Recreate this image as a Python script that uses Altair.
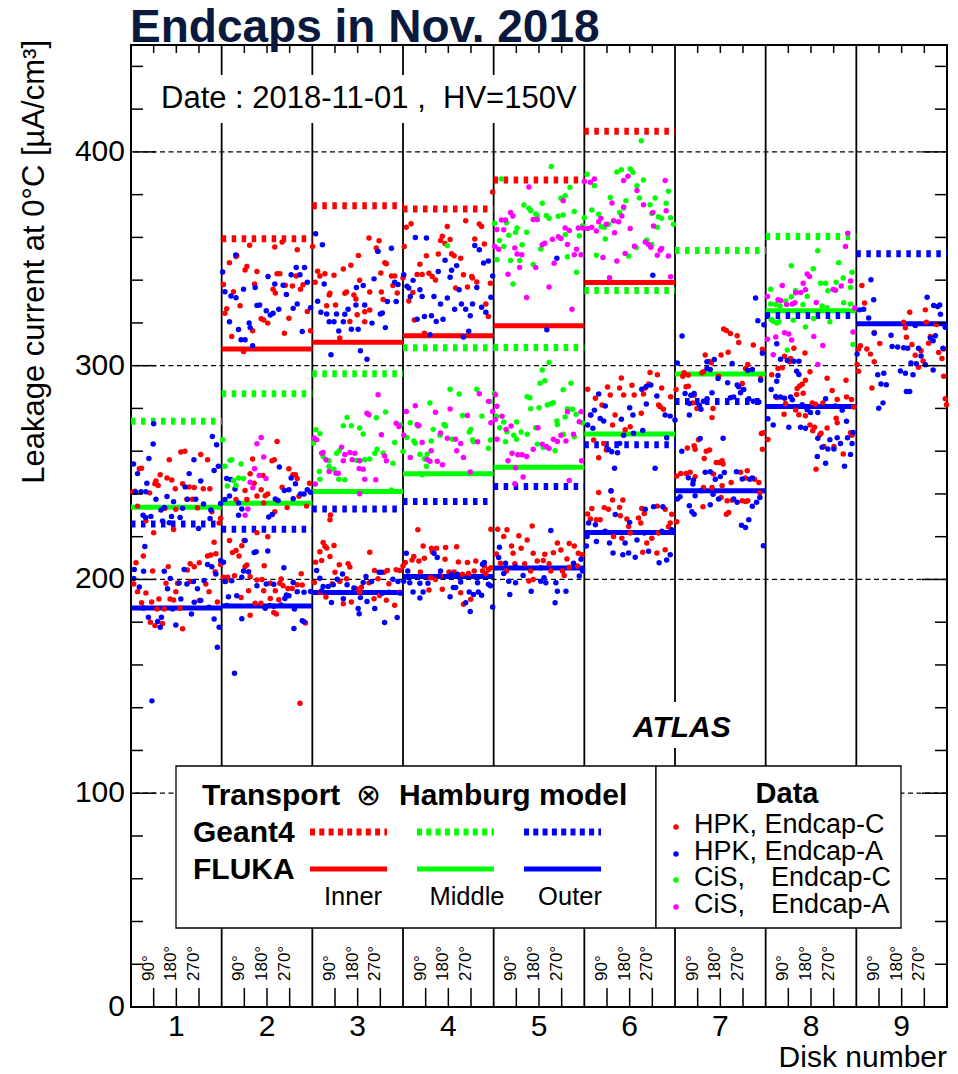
import altair as alt
import pandas as pd

FONT = "Liberation Sans"
W, H = 816, 962  # plot area in pixels

# ---------------- axes / layout values ----------------
disks = [1, 2, 3, 4, 5, 6, 7, 8, 9]
dividers = [1.5, 2.5, 3.5, 4.5, 5.5, 6.5, 7.5, 8.5]
phi_ticks = [90, 180, 270]
phi_labels = ["90°", "180°", "270°"]
y_major = [0, 100, 200, 300, 400]
y_minor = [20, 40, 60, 80, 120, 140, 160, 180, 220, 240, 260, 280,
           320, 340, 360, 380, 420, 440]
grid_levels = [100, 200, 300, 400]

# ---------------- model predictions (per disk 1..9) ----------------
g4_inner = [None, 359.4, 374.8, 373.3, 386.9, 409.6, None, None, None]
fl_inner = [None, 307.8, 310.9, 314.0, 318.7, 338.9, None, None, None]
g4_middle = [274.0, 286.9, 296.2, 308.4, 308.5, 335.2, 353.9, 360.4, None]
fl_middle = [233.8, 235.7, 241.1, 249.4, 252.5, 268.0, 296.1, 325.7, None]
g4_outer = [225.9, 223.5, 233.0, 236.5, 243.5, 263.0, 283.2, 323.5, 352.4]
fl_outer = [186.6, 187.6, 193.9, 201.4, 205.3, 222.0, 241.5, 280.9, 319.6]

# ---------------- measured modules: (phi [deg], current) ----------------
hpk_c_d1 = [(198, 259.6), (214, 260.0), (152, 256.0), (277, 258.4), (304, 256.0), (33, 251.8), (42, 252.0),
            (116, 249.0), (143, 247.5), (162, 246.5), (99, 246.0), (95, 244.8), (108, 244.0), (176, 242.4),
            (205, 244.8), (231, 243.3), (251, 243.0), (287, 242.4), (313, 242.4), (16, 241.3), (7, 240.8),
            (74, 240.5), (222, 237.5), (244, 237.5), (264, 233.5), (26, 234.3), (135, 233.3), (178, 232.8),
            (321, 231.7), (356, 228.6), (59, 227.4), (169, 223.4), (90, 221.9), (350, 226.4),
            (330, 217.4), (49, 211.0), (337, 212.0), (317, 211.4), (304, 211.0), (20, 207.8), (235, 207.3),
            (271, 207.8), (251, 205.9), (356, 207.0), (86, 204.0), (139, 198.2), (185, 198.2), (11, 197.9),
            (26, 194.3), (178, 194.3), (235, 199.0), (310, 194.3), (59, 193.7), (111, 190.9), (155, 190.9),
            (169, 190.4), (271, 190.1), (343, 189.4), (42, 189.1), (82, 189.4), (103, 186.2), (132, 186.2),
            (195, 186.5), (77, 180.0), (95, 178.4), (125, 179.4), (205, 176.9), (297, 197.9), (224, 204.4),
            (148, 206.0), (334, 203.6)]
hpk_a_d1 = [(90, 272.8), (323, 266.9), (88, 263.4), (340, 263.0), (71, 256.6), (10, 254.0), (250, 256.0),
            (26, 249.5), (330, 251.0), (347, 253.0), (215, 243.3), (63, 245.0), (231, 249.5), (277, 246.0),
            (18, 240.8), (40, 241.0), (59, 241.0), (143, 238.8), (169, 236.4), (205, 233.3), (224, 237.5),
            (257, 237.5), (288, 235.3), (317, 232.5), (99, 237.5), (119, 232.5), (132, 233.7), (48, 230.0),
            (58, 229.0), (79, 229.5), (161, 229.5), (195, 229.0), (314, 228.5), (125, 227.4), (152, 226.5),
            (268, 223.8), (356, 235.5),
            (55, 215.4), (13, 204.6), (50, 203.8), (132, 203.8), (211, 204.7), (304, 207.0), (321, 205.9),
            (356, 208.9), (33, 196.5), (145, 195.7), (191, 198.3), (222, 197.9), (248, 199.0), (290, 199.5),
            (337, 202.5), (198, 190.9), (251, 189.3), (277, 190.1), (50, 186.6), (310, 187.0), (165, 186.2),
            (69, 182.3), (121, 182.3), (106, 180.3), (116, 177.6), (178, 178.7), (240, 183.8), (330, 181.5),
            (350, 177.6), (343, 168.3), (83, 143.2), (11, 200.5), (156, 200.5), (264, 195.7)]

hpk_c_d2 = [(111, 356.3), (57, 351.1), (211, 355.5), (240, 357.8), (300, 354.2), (140, 344.1), (93, 344.8),
            (100, 346.4), (31, 348.2), (131, 338.2), (7, 338.0), (220, 343.0), (231, 343.0), (204, 335.8),
            (213, 334.0), (253, 337.6), (281, 337.3), (296, 341.9), (313, 335.8), (323, 337.8), (47, 334.6),
            (73, 328.0), (13, 324.5), (20, 326.6), (157, 321.9), (167, 321.4), (183, 319.9), (123, 316.3),
            (249, 315.2), (267, 322.2), (340, 325.3), (353, 316.3), (40, 313.7), (87, 306.6), (60, 351.5),
            (220, 264.5), (123, 256.3), (209, 256.0), (200, 255.5), (113, 249.4), (164, 248.6), (267, 251.8),
            (283, 249.0), (293, 249.0), (300, 247.2), (349, 245.0), (129, 245.0), (157, 242.0), (93, 241.6),
            (183, 240.0), (173, 239.2), (140, 239.0), (57, 237.4), (240, 243.1), (307, 238.9), (167, 235.8),
            (337, 234.3), (260, 233.6), (211, 231.7), (100, 237.4),
            (140, 221.9), (183, 220.0), (31, 218.2), (89, 218.2), (80, 215.8), (57, 213.5), (43, 212.6),
            (69, 211.0), (100, 206.8), (93, 206.0), (169, 206.4), (24, 201.0), (51, 201.7), (113, 201.3),
            (7, 201.0), (236, 200.2), (316, 202.7), (17, 199.2), (140, 199.7), (160, 200.0), (193, 198.2),
            (231, 198.2), (244, 197.0), (263, 195.8), (280, 195.8), (300, 197.5), (320, 197.4), (107, 194.7),
            (167, 194.7), (213, 194.7), (77, 191.6), (193, 191.1), (227, 190.5), (133, 188.9), (156, 188.9),
            (207, 184.5), (217, 183.8), (113, 183.3), (333, 179.6), (311, 142.1)]
hpk_a_d2 = [(56, 351.8), (4, 343.8), (13, 334.6), (37, 332.6), (57, 331.8), (87, 335.8), (133, 336.6),
            (184, 341.7), (211, 338.2), (244, 337.6), (257, 333.3), (276, 342.5), (296, 345.9), (311, 342.5),
            (329, 345.9), (340, 339.0), (140, 328.2), (151, 328.4), (177, 325.7), (193, 323.7), (204, 324.5),
            (227, 326.4), (284, 326.8), (300, 328.9), (31, 320.5), (67, 316.9), (109, 320.0), (113, 317.8),
            (77, 312.1), (93, 312.1), (123, 309.3), (320, 316.0), (353, 327.1),
            (229, 252.6), (20, 247.2), (36, 246.7), (53, 242.3), (276, 247.5), (293, 244.8), (249, 241.6),
            (267, 242.0), (313, 240.0), (327, 240.0), (13, 237.4), (31, 239.0), (67, 235.8), (80, 233.0),
            (213, 237.6), (224, 236.9), (284, 237.7), (340, 242.0), (201, 230.4), (187, 229.2), (67, 230.0),
            (353, 240.8),
            (93, 218.2), (129, 212.6), (137, 213.0), (183, 213.3), (7, 208.0), (87, 204.0), (107, 203.6),
            (247, 205.5), (13, 199.0), (40, 199.4), (80, 201.0), (140, 197.0), (177, 197.9), (207, 197.7),
            (257, 192.7), (284, 198.6), (300, 194.3), (327, 194.0), (353, 194.4), (60, 192.4), (27, 191.9),
            (173, 186.5), (191, 187.8), (251, 191.1), (267, 192.4), (236, 188.1), (289, 186.2), (80, 181.6),
            (287, 177.1), (320, 180.7), (327, 180.2), (51, 156.1), (207, 187.5), (20, 187.8)]
cis_c_d2 = [(4, 265.3), (33, 255.7), (40, 256.0), (77, 254.0), (13, 253.0), (47, 246.3), (67, 247.5),
            (87, 247.2), (23, 243.7), (57, 244.0)]
cis_a_d2 = [(157, 266.4), (140, 263.5), (167, 257.3), (131, 251.8), (149, 248.6), (176, 247.2), (113, 245.5),
            (124, 242.9), (104, 233.0), (93, 230.0)]

hpk_c_d3 = [(225, 359.7), (254, 355.0), (265, 358.4), (294, 347.7), (272, 343.4), (288, 348.2), (259, 353.5),
            (188, 340.0), (153, 347.0), (123, 345.2), (86, 342.3), (50, 343.0), (30, 341.9), (11, 339.0),
            (21, 344.2), (70, 333.9), (67, 333.1), (57, 328.0), (92, 328.4), (129, 333.9), (136, 334.5),
            (165, 333.1), (173, 331.2), (208, 320.5), (228, 334.5), (274, 334.5), (281, 331.0), (314, 341.9),
            (320, 337.5), (327, 342.0), (337, 334.0), (109, 312.9), (149, 320.7), (183, 351.5), (208, 325.2),
            (178, 323.8), (228, 326.0), (1, 355.8),
            (72, 230.2), (70, 227.9), (43, 217.3), (57, 214.7), (50, 215.5), (86, 215.9), (30, 213.0),
            (70, 210.7), (13, 208.1), (37, 208.9), (107, 206.9), (142, 207.4), (149, 205.8), (228, 212.7),
            (247, 204.2), (298, 204.2), (333, 204.5), (347, 204.2), (285, 203.4), (304, 198.0), (261, 200.3),
            (8, 198.6), (79, 198.0), (109, 199.0), (136, 200.3), (175, 195.6), (188, 194.0), (195, 196.4),
            (225, 198.4), (267, 192.5), (245, 191.0), (123, 188.6), (155, 189.4), (34, 194.0), (54, 191.8),
            (294, 190.3), (327, 187.9), (347, 194.0), (90, 203.4)]
hpk_a_d3 = [(13, 361.7), (40, 356.6), (47, 338.2), (21, 330.1), (34, 325.0), (57, 324.2), (67, 320.5),
            (86, 320.5), (105, 316.2), (123, 320.5), (129, 324.0), (155, 317.0), (182, 317.0), (175, 336.6),
            (173, 328.4), (202, 337.5), (208, 328.4), (237, 319.9), (245, 340.6), (261, 353.5), (270, 324.2),
            (278, 324.6), (290, 317.8), (298, 330.0), (314, 354.9), (327, 339.0), (333, 330.0), (340, 338.0),
            (142, 326.4), (74, 305.1), (191, 307.0), (217, 303.0), (96, 324.2),
            (17, 204.2), (30, 200.6), (43, 196.7), (63, 196.7), (83, 197.5), (99, 200.1), (120, 202.6),
            (138, 197.5), (165, 196.0), (202, 198.6), (213, 201.4), (235, 199.0), (265, 203.4), (274, 203.4),
            (278, 193.6), (304, 194.0), (320, 200.1), (340, 199.0), (349, 193.6), (76, 189.2), (123, 191.0),
            (182, 186.4), (186, 184.0), (217, 189.7), (248, 186.4), (287, 179.9), (337, 182.2), (191, 191.5),
            (37, 194.7), (107, 193.9)]
cis_c_d3 = [(14, 270.0), (30, 268.1), (4, 263.8), (43, 257.5), (66, 255.5), (86, 251.6), (105, 246.9),
            (30, 246.9), (129, 246.6), (138, 275.8), (123, 271.9), (155, 271.9), (188, 270.8), (202, 268.0),
            (254, 275.6), (291, 278.3), (248, 259.0), (257, 260.9), (228, 256.3), (208, 256.0), (175, 255.7),
            (107, 260.2), (96, 259.0), (66, 252.8), (327, 264.1), (349, 272.4), (320, 254.4), (281, 259.1),
            (314, 241.9), (28, 250.5)]
cis_a_d3 = [(261, 286.4), (217, 277.8), (225, 277.0), (333, 273.1), (344, 271.5), (43, 259.4), (37, 259.0),
            (54, 256.0), (17, 265.4), (8, 266.2), (116, 261.9), (129, 258.4), (149, 259.4), (158, 256.0),
            (169, 259.0), (123, 255.5), (188, 255.5), (202, 251.6), (186, 251.9), (67, 250.5), (94, 249.7),
            (274, 267.7), (294, 255.5), (287, 257.8), (252, 246.6), (208, 246.9), (188, 240.1), (12, 244.6),
            (103, 249.7)]

hpk_c_d4 = [(13, 364.8), (32, 366.4), (5, 355.7), (176, 365.1), (249, 367.8), (303, 366.3), (312, 365.1),
            (156, 360.5), (149, 358.5), (167, 357.1), (187, 359.0), (285, 359.3), (323, 356.9), (93, 351.4),
            (140, 352.2), (193, 352.3), (203, 351.4), (229, 350.3), (67, 347.4), (56, 342.7), (76, 342.7),
            (103, 343.2), (116, 341.7), (129, 340.1), (240, 342.5), (273, 341.7), (276, 341.0), (293, 339.1),
            (347, 338.6), (209, 336.3), (256, 336.8), (39, 334.2), (23, 330.3), (45, 321.4), (329, 328.8),
            (339, 323.0), (85, 315.2), (356, 381.2), (0, 341.0),
            (59, 223.2), (349, 223.5), (80, 215.6), (113, 214.6), (133, 214.6), (169, 214.9), (213, 215.3),
            (116, 213.0), (43, 210.7), (36, 209.1), (85, 209.9), (167, 209.4), (9, 207.9), (63, 208.6),
            (183, 203.5), (220, 208.2), (256, 207.9), (289, 208.6), (323, 206.3), (340, 204.7), (349, 205.5),
            (109, 200.8), (129, 200.0), (149, 201.6), (203, 203.5), (236, 202.4), (260, 202.8), (316, 203.9),
            (329, 202.8), (103, 195.1), (156, 195.4), (229, 193.8), (240, 188.4), (269, 190.7), (69, 203.5),
            (283, 203.9), (0, 206.3)]
hpk_a_d4 = [(49, 360.0), (93, 359.7), (285, 356.2), (303, 354.2), (320, 348.0), (339, 349.0), (167, 349.3),
            (193, 344.6), (213, 346.8), (187, 341.4), (140, 344.1), (3, 342.5), (16, 337.1), (23, 336.3),
            (40, 339.9), (67, 335.5), (76, 332.4), (123, 332.4), (149, 328.8), (176, 331.6), (223, 335.5),
            (276, 328.8), (293, 336.6), (312, 327.3), (329, 325.0), (349, 332.0), (356, 342.0), (29, 332.4),
            (56, 321.7), (85, 323.0), (113, 323.3), (132, 320.7), (159, 321.7), (205, 326.4), (232, 328.8),
            (249, 326.4), (267, 323.3), (107, 314.5), (240, 313.4), (261, 316.1),
            (13, 212.2), (123, 212.2), (136, 210.3), (149, 203.9), (192, 202.4), (216, 202.4), (316, 207.1),
            (323, 207.9), (3, 199.2), (27, 198.5), (67, 198.2), (99, 198.2), (200, 196.2), (209, 196.2),
            (296, 198.5), (339, 197.7), (347, 197.0), (40, 194.1), (80, 194.1), (187, 191.9), (263, 194.1),
            (280, 193.0), (299, 194.1), (312, 192.6), (67, 191.3), (249, 189.1), (267, 185.0), (356, 187.1),
            (143, 201.6), (229, 198.8), (19, 203.9)]
cis_c_d4 = [(176, 356.2),
            (187, 289.0), (223, 286.7), (293, 289.0), (107, 282.5), (347, 283.3), (236, 276.7), (313, 276.4),
            (163, 272.5), (169, 271.8), (29, 273.3), (59, 271.8), (120, 270.2), (269, 270.2), (263, 269.0),
            (196, 265.6), (16, 266.4), (43, 264.8), (49, 263.7), (112, 264.8), (147, 267.5), (276, 265.2),
            (280, 264.4), (347, 265.2), (67, 258.6), (96, 258.6), (85, 256.5), (93, 252.9), (339, 261.4),
            (76, 249.0), (0, 259.9)]
cis_a_d4 = [(303, 286.9), (339, 283.3), (13, 278.6), (49, 281.3), (129, 278.2), (187, 279.7), (256, 276.7),
            (356, 278.6), (56, 272.5), (63, 272.0), (149, 268.5), (176, 266.0), (209, 265.6), (229, 263.6),
            (349, 273.3), (296, 264.4), (76, 264.1), (29, 257.1), (112, 260.2), (213, 260.2), (96, 256.1),
            (107, 255.3), (136, 255.3), (157, 253.7), (240, 257.1), (267, 250.3), (3, 267.5)]

cis_c_d5 = [(229, 393.2), (31, 387.3), (284, 379.5), (303, 383.4), (267, 378.3), (120, 375.2), (140, 373.6),
            (147, 372.5), (193, 376.0), (173, 370.2), (209, 370.2), (220, 369.0), (256, 369.9), (276, 370.5),
            (320, 372.1), (167, 371.0), (4, 366.6), (51, 366.8), (93, 364.4), (87, 362.4), (23, 358.6),
            (60, 361.0), (131, 362.4), (40, 355.8), (113, 356.6), (187, 354.6), (284, 361.3), (340, 360.8),
            (353, 365.5), (13, 349.6), (67, 349.2), (103, 349.2), (157, 347.3), (293, 350.9), (329, 343.7),
            (77, 338.2),
            (220, 301.5), (193, 298.0), (203, 293.0), (184, 291.8), (276, 288.7), (307, 291.8), (133, 285.5),
            (213, 281.6), (227, 282.2), (237, 282.7), (251, 274.1), (284, 276.0), (293, 279.9), (313, 279.6),
            (327, 277.3), (353, 273.3), (253, 272.5), (180, 280.3), (167, 271.0), (11, 276.3), (40, 273.7),
            (91, 273.7), (147, 279.9), (109, 269.0), (80, 267.5), (91, 265.6), (24, 271.0), (53, 269.1),
            (133, 267.9), (47, 264.4), (173, 263.3), (197, 261.7), (244, 260.2), (277, 267.9), (320, 266.8),
            (3, 287.0), (144, 285.0)]
cis_a_d5 = [(140, 383.6), (67, 371.6), (76, 370.0), (31, 368.1), (47, 368.1), (157, 368.4), (173, 368.4),
            (276, 377.2), (284, 364.4), (300, 363.2), (336, 364.4), (353, 364.4), (13, 363.7), (40, 363.6),
            (4, 355.8), (20, 354.5), (84, 355.1), (93, 352.2), (111, 351.9), (193, 356.6), (203, 357.3),
            (233, 359.1), (257, 360.3), (267, 359.5), (293, 356.7), (329, 354.5), (320, 351.9), (347, 351.9),
            (57, 342.8), (103, 345.9), (167, 345.9), (240, 347.9), (220, 336.8), (131, 331.9), (311, 326.4),
            (7, 286.4), (13, 281.0), (33, 276.3), (49, 270.2), (7, 274.8), (13, 265.6), (69, 271.8),
            (73, 259.0), (96, 258.3), (113, 258.3), (131, 257.5), (57, 255.5), (87, 252.2), (157, 260.9),
            (176, 271.0), (193, 263.3), (209, 262.2), (237, 265.6), (253, 264.5), (267, 267.5), (287, 264.8),
            (293, 278.5), (340, 273.8), (347, 278.5), (317, 267.9), (349, 255.5), (220, 261.2), (117, 247.9),
            (300, 246.3), (84, 244.8)]
hpk_c_d5 = [(16, 223.5), (53, 223.2), (153, 225.0), (40, 220.1), (100, 220.4), (133, 218.5), (320, 215.6),
            (71, 215.6), (109, 214.6), (253, 217.1), (300, 216.8), (77, 212.2), (11, 211.9), (157, 212.2),
            (203, 211.8), (237, 212.5), (267, 213.8), (336, 212.2), (351, 211.5), (27, 207.6), (84, 207.3),
            (123, 207.3), (173, 208.6), (197, 208.9), (220, 207.3), (291, 209.6), (300, 205.7), (51, 203.9),
            (147, 203.9), (227, 203.9), (273, 203.9), (157, 200.0), (140, 199.3), (280, 201.9), (333, 206.3)]
hpk_a_d5 = [(211, 316.8), (251, 350.3),
            (23, 215.1), (227, 222.9), (20, 210.3), (47, 207.6), (87, 206.0), (187, 205.5), (317, 207.6),
            (347, 209.4), (40, 202.8), (60, 199.2), (87, 198.5), (117, 201.9), (149, 194.5), (187, 199.2),
            (200, 200.8), (207, 198.5), (247, 198.5), (253, 194.5), (287, 194.5), (340, 201.6), (353, 203.9),
            (64, 193.0), (244, 189.1)]

cis_c_d6 = [(226, 405.2), (129, 390.6), (147, 391.7), (182, 392.0), (193, 390.5), (11, 389.5), (40, 384.2),
            (235, 386.8), (209, 384.2), (334, 381.6), (281, 378.4), (165, 377.2), (219, 378.4), (261, 375.3),
            (325, 376.0), (103, 378.7), (156, 373.7), (140, 371.6), (30, 372.8), (57, 370.8), (268, 371.2),
            (294, 369.7), (307, 368.9), (343, 369.2), (0, 369.2), (354, 366.1), (67, 365.0), (79, 364.7),
            (96, 366.1), (290, 364.7), (83, 359.2), (248, 358.8), (206, 355.3), (48, 351.7), (176, 351.3),
            (268, 356.7)]
cis_a_d6 = [(0, 386.2), (24, 385.8), (40, 387.3), (156, 386.6), (173, 388.6), (321, 386.6), (209, 381.9),
            (110, 376.1), (156, 374.2), (235, 375.3), (272, 371.6), (325, 372.5), (66, 368.9), (57, 367.3),
            (116, 367.8), (136, 367.3), (149, 370.0), (87, 366.2), (13, 364.2), (30, 364.7), (48, 363.0),
            (120, 362.2), (182, 364.2), (275, 365.3), (242, 357.8), (255, 356.7), (264, 355.4), (199, 355.9),
            (162, 352.5), (74, 350.6), (129, 349.0), (290, 351.7), (301, 354.0), (307, 354.8), (334, 351.3),
            (100, 341.1), (343, 341.6)]
hpk_c_d6 = [(261, 296.8), (290, 295.7), (147, 294.2), (92, 290.0), (189, 290.8), (140, 289.5), (242, 289.5),
            (255, 291.4), (307, 289.5), (13, 289.0), (44, 284.8), (103, 286.3), (156, 286.3), (198, 286.3),
            (235, 286.7), (343, 285.5), (295, 281.6), (70, 281.6), (122, 276.9), (226, 277.7), (301, 280.8),
            (314, 279.6), (24, 276.9), (112, 272.2), (182, 271.4), (37, 265.2), (77, 263.6), (57, 256.9),
            (87, 260.5), (162, 270.0),
            (57, 240.7), (106, 241.4), (112, 237.2), (153, 237.2), (79, 233.6), (96, 232.8), (140, 233.7),
            (30, 233.2), (228, 233.2), (238, 230.9), (290, 234.3), (321, 232.8), (13, 230.6), (347, 230.5),
            (48, 227.9), (63, 227.9), (143, 229.8), (215, 228.7), (224, 226.4), (341, 226.4), (169, 228.3),
            (24, 228.3), (176, 224.8), (334, 224.6), (182, 221.7), (116, 220.1), (149, 219.3), (268, 219.3),
            (294, 221.7), (248, 217.0), (321, 213.9), (232, 212.7), (288, 212.4)]
hpk_a_d6 = [(272, 342.3),
            (228, 289.0), (246, 290.3), (264, 291.0), (57, 286.8), (288, 285.8), (180, 280.3), (83, 281.1),
            (246, 282.1), (40, 279.2), (321, 276.9), (341, 276.4), (26, 276.9), (63, 275.3), (77, 274.1),
            (147, 274.9), (193, 276.9), (13, 272.2), (34, 270.7), (156, 267.5), (195, 268.4), (232, 269.7),
            (327, 266.3), (96, 260.8), (109, 259.7), (132, 259.3), (120, 252.0), (281, 252.0), (140, 263.6),
            (106, 241.5), (17, 226.4), (44, 225.6), (180, 226.7), (242, 232.8), (275, 234.0), (312, 234.0),
            (123, 230.4), (11, 220.1), (48, 217.8), (100, 217.0), (162, 217.0), (209, 218.5), (238, 221.7),
            (308, 222.5), (347, 223.2), (114, 212.4), (153, 211.6), (176, 212.4), (202, 210.4), (255, 213.2),
            (297, 207.8), (327, 209.1), (341, 211.6), (8, 215.6), (83, 222.5)]

hpk_c_d7 = [(193, 317.1), (204, 316.5), (220, 315.0), (247, 314.0), (253, 310.8), (211, 306.3), (183, 305.0),
            (120, 305.0), (137, 301.9), (144, 301.4), (107, 296.7), (113, 297.2), (311, 309.7), (289, 300.6),
            (347, 307.7), (36, 296.7), (31, 295.1), (44, 290.1), (53, 290.4), (71, 282.6), (76, 286.2),
            (87, 280.0), (53, 295.6), (151, 280.0), (147, 275.7), (173, 295.1), (267, 291.7), (271, 288.9),
            (280, 298.7), (340, 294.0), (343, 268.3), (4, 288.9),
            (93, 265.3), (49, 261.5), (76, 262.5), (80, 260.9), (116, 256.6), (124, 260.0), (137, 260.5),
            (164, 254.7), (177, 254.7), (187, 255.5), (191, 254.0), (44, 249.6), (60, 250.1), (80, 248.1),
            (7, 248.4), (23, 249.6), (153, 249.3), (260, 250.1), (287, 250.8), (280, 247.4), (316, 246.9),
            (333, 245.4), (223, 245.4), (147, 243.0), (187, 243.8), (113, 243.0), (111, 234.0), (207, 236.8),
            (227, 237.1), (267, 236.8), (280, 236.5), (289, 236.8), (213, 231.3), (204, 230.5), (183, 238.3),
            (337, 240.6), (351, 268.6), (347, 260.9), (7, 227.0)]
hpk_a_d7 = [(320, 331.6), (329, 321.0), (353, 319.1), (347, 305.8), (28, 313.9), (9, 301.3), (127, 301.8),
            (156, 302.9), (227, 301.0), (289, 297.9), (307, 298.2), (340, 293.2), (127, 298.7), (140, 298.2),
            (171, 294.0), (209, 292.0), (247, 291.0), (253, 290.1), (273, 288.9), (147, 287.3), (40, 287.0),
            (63, 286.2), (57, 282.3), (76, 287.0), (113, 283.4), (127, 284.5), (220, 285.0), (233, 285.4),
            (260, 287.3), (293, 284.5), (311, 283.4), (333, 283.0), (103, 279.6), (57, 276.9), (97, 281.5),
            (191, 266.0), (0, 274.6),
            (27, 260.0), (100, 265.9), (120, 250.1), (140, 250.4), (180, 248.1), (160, 246.9), (196, 250.0),
            (244, 250.4), (267, 247.0), (297, 246.9), (307, 247.4), (73, 246.4), (53, 247.6), (71, 244.6),
            (20, 238.7), (9, 237.6), (80, 239.2), (103, 241.5), (151, 239.9), (173, 237.6), (233, 237.6),
            (247, 236.1), (324, 236.1), (337, 238.3), (57, 234.5), (67, 231.7), (76, 230.5), (140, 234.9),
            (307, 234.2), (264, 225.4), (280, 224.3), (293, 227.9), (351, 215.8)]

cis_c_d8 = [(207, 353.8), (290, 348.2), (102, 346.7), (189, 345.3), (218, 338.6), (238, 338.6), (343, 343.7),
            (247, 335.0), (280, 339.0), (308, 341.0), (337, 336.6), (119, 335.2), (148, 328.6), (102, 332.2),
            (165, 332.5), (20, 335.8), (20, 328.8), (40, 328.6), (57, 327.9), (79, 330.2), (110, 321.3),
            (158, 318.1), (255, 320.5), (310, 329.4), (337, 328.8), (347, 309.9), (22, 321.6), (30, 320.8),
            (44, 320.0), (53, 320.5), (86, 307.3), (191, 322.1), (224, 327.9), (244, 327.1)]
cis_a_d8 = [(326, 362.0), (317, 355.8), (165, 342.9), (174, 341.7), (149, 338.6), (139, 334.2), (158, 335.5),
            (119, 334.1), (106, 328.8), (66, 337.5), (49, 330.8), (59, 330.5), (83, 328.6), (116, 329.4),
            (201, 329.5), (268, 335.6), (277, 335.3), (300, 337.3), (337, 339.6), (347, 315.8), (354, 327.0),
            (7, 332.4), (7, 312.4), (40, 313.4), (75, 315.4), (92, 314.8), (103, 312.0), (191, 313.7),
            (227, 309.4), (30, 305.1), (207, 300.6)]
hpk_c_d8 = [(112, 308.2), (156, 305.9), (24, 295.7), (49, 298.7), (66, 299.0), (75, 304.4), (99, 303.3),
            (95, 301.8), (125, 289.3), (135, 290.5), (145, 291.3), (158, 293.2), (149, 287.1), (176, 297.2),
            (244, 294.1), (264, 288.4), (319, 293.2), (321, 285.4), (44, 285.1), (79, 282.3), (123, 286.5),
            (158, 276.6), (185, 282.6), (198, 282.0), (227, 282.6), (284, 284.2), (341, 284.2), (350, 280.7),
            (119, 279.3), (73, 277.3), (132, 277.0), (176, 272.3), (187, 269.6), (194, 271.2), (215, 267.7),
            (220, 268.4), (244, 270.8), (280, 275.4), (284, 273.3), (308, 258.7), (337, 268.6), (343, 267.5),
            (200, 251.6), (231, 262.2), (271, 262.2), (9, 265.5)]
hpk_a_d8 = [(44, 310.3), (86, 302.4), (112, 302.1), (132, 302.1), (123, 297.4), (132, 295.9), (49, 295.4),
            (44, 292.7), (59, 303.0), (22, 288.8), (40, 285.6), (59, 285.3), (75, 284.8), (99, 285.3),
            (106, 284.1), (145, 281.7), (165, 279.4), (178, 278.1), (207, 278.1), (238, 284.5), (277, 281.1),
            (304, 279.2), (321, 274.0), (325, 266.3), (343, 263.6), (337, 258.5), (347, 268.7), (9, 275.2),
            (30, 272.2), (92, 271.2), (139, 271.2), (158, 270.7), (207, 266.0), (224, 261.8), (255, 265.4),
            (271, 261.0), (284, 266.3), (297, 263.6), (313, 253.0), (247, 261.0), (238, 254.3), (205, 257.5)]

hpk_c_d9 = [(22, 337.5), (33, 329.3), (9, 307.8), (16, 309.3), (42, 307.8), (56, 305.4), (71, 301.8),
            (93, 310.4), (71, 315.5), (9, 297.4), (62, 289.6), (188, 320.3), (199, 313.3), (212, 325.0),
            (195, 317.7), (234, 304.9), (265, 302.2), (257, 307.0), (278, 320.3), (287, 310.5), (294, 313.6),
            (318, 319.2), (340, 303.3), (347, 307.8), (353, 284.5), (358, 281.7), (347, 295.1), (221, 309.9),
            (247, 299.3), (3, 300.6), (327, 306.2), (274, 326.1)]
hpk_a_d9 = [(58, 340.2), (69, 330.8), (29, 326.4), (13, 326.1), (49, 322.3), (71, 315.2), (142, 309.0),
            (138, 314.2), (164, 308.7), (188, 308.4), (204, 308.2), (217, 301.3), (234, 318.8), (247, 308.2),
            (257, 304.5), (281, 332.0), (307, 328.1), (323, 327.7), (331, 328.4), (334, 324.1), (314, 314.0),
            (305, 311.7), (294, 313.0), (344, 308.2), (353, 318.0), (85, 295.7), (109, 296.4), (98, 291.4),
            (89, 280.1), (106, 282.6), (119, 291.1), (175, 297.5), (195, 296.4), (225, 295.8), (199, 287.9),
            (212, 287.9), (238, 300.9), (274, 300.4), (305, 298.0), (3, 305.4)]

series_names = ["HPK, Endcap-C", "HPK, Endcap-A", "CiS, Endcap-C", "CiS, Endcap-A"]
series_colors = ["#ff0000", "#0000ff", "#00ff00", "#ff00ff"]
region_colors = {"Inner": "#ff0000", "Middle": "#00ff00", "Outer": "#0000ff"}

point_sets = [
    ("HPK, Endcap-C", 1, hpk_c_d1), ("HPK, Endcap-C", 2, hpk_c_d2), ("HPK, Endcap-C", 3, hpk_c_d3),
    ("HPK, Endcap-C", 4, hpk_c_d4), ("HPK, Endcap-C", 5, hpk_c_d5), ("HPK, Endcap-C", 6, hpk_c_d6),
    ("HPK, Endcap-C", 7, hpk_c_d7), ("HPK, Endcap-C", 8, hpk_c_d8), ("HPK, Endcap-C", 9, hpk_c_d9),
    ("HPK, Endcap-A", 1, hpk_a_d1), ("HPK, Endcap-A", 2, hpk_a_d2), ("HPK, Endcap-A", 3, hpk_a_d3),
    ("HPK, Endcap-A", 4, hpk_a_d4), ("HPK, Endcap-A", 5, hpk_a_d5), ("HPK, Endcap-A", 6, hpk_a_d6),
    ("HPK, Endcap-A", 7, hpk_a_d7), ("HPK, Endcap-A", 8, hpk_a_d8), ("HPK, Endcap-A", 9, hpk_a_d9),
    ("CiS, Endcap-C", 2, cis_c_d2), ("CiS, Endcap-C", 3, cis_c_d3), ("CiS, Endcap-C", 4, cis_c_d4),
    ("CiS, Endcap-C", 5, cis_c_d5), ("CiS, Endcap-C", 6, cis_c_d6), ("CiS, Endcap-C", 8, cis_c_d8),
    ("CiS, Endcap-A", 2, cis_a_d2), ("CiS, Endcap-A", 3, cis_a_d3), ("CiS, Endcap-A", 4, cis_a_d4),
    ("CiS, Endcap-A", 5, cis_a_d5), ("CiS, Endcap-A", 6, cis_a_d6), ("CiS, Endcap-A", 8, cis_a_d8),
]

# ---------------- tables ----------------
color_of = dict(zip(series_names, series_colors))
rows = []
for name, disk, pts in point_sets:
    for phi, val in pts:
        rows.append({"series": name, "disk": disk, "phi": phi, "value": val,
                     "x": disk - 0.5 + phi / 360.0, "col": color_of[name]})
points_df = pd.DataFrame(rows)

model_rows = []
for model, region, arr in [("Geant4", "Inner", g4_inner), ("FLUKA", "Inner", fl_inner),
                           ("Geant4", "Middle", g4_middle), ("FLUKA", "Middle", fl_middle),
                           ("Geant4", "Outer", g4_outer), ("FLUKA", "Outer", fl_outer)]:
    for disk, v in zip(disks, arr):
        if v is not None:
            model_rows.append({"model": model, "region": region, "value": v,
                               "x0": disk - 0.5, "x1": disk + 0.5, "col": region_colors[region]})
model_df = pd.DataFrame(model_rows)

quarter_df = pd.DataFrame([{"q": d - 0.5 + p / 360.0, "lab": lab}
                           for d in disks for p, lab in zip(phi_ticks, phi_labels)])
disk_df = pd.DataFrame({"d": disks})
div_df = pd.DataFrame({"d": dividers})
grid_df = pd.DataFrame({"v": grid_levels})
ymaj_df = pd.DataFrame({"v": y_major})
ymin_df = pd.DataFrame({"v": y_minor})
one = pd.DataFrame({"k": [0]})

xs = alt.Scale(domain=[0.5, 9.5], nice=False, zero=False)
ys = alt.Scale(domain=[0, 450], nice=False)

layers = []

# dashed horizontal grid
layers.append(alt.Chart(grid_df).mark_rule(color="black", strokeWidth=1.2, strokeDash=[5, 3.5]).encode(
    y=alt.Y("v:Q", scale=ys, axis=None)))
# disk separators
layers.append(alt.Chart(div_df).mark_rule(color="black", strokeWidth=1.8).encode(
    x=alt.X("d:Q", scale=xs, axis=None)))
# FLUKA (solid) and Geant4 (dotted) predictions
layers.append(alt.Chart(model_df).transform_filter(alt.datum.model == "FLUKA").mark_rule(
    strokeWidth=5, strokeCap="butt").encode(
    x=alt.X("x0:Q", scale=xs, axis=None), x2="x1:Q",
    y=alt.Y("value:Q", scale=ys, axis=None),
    color=alt.Color("col:N", scale=None, legend=None)))
layers.append(alt.Chart(model_df).transform_filter(alt.datum.model == "Geant4").mark_rule(
    strokeWidth=7, strokeDash=[4.5, 5.5], strokeCap="butt").encode(
    x=alt.X("x0:Q", scale=xs, axis=None), x2="x1:Q",
    y=alt.Y("value:Q", scale=ys, axis=None),
    color=alt.Color("col:N", scale=None, legend=None)))
# measured modules
layers.append(alt.Chart(points_df).mark_circle(size=30, opacity=1).encode(
    x=alt.X("x:Q", scale=xs, axis=None),
    y=alt.Y("value:Q", scale=ys, axis=None),
    color=alt.Color("col:N", scale=None, legend=None)))

# inward ticks on all four sides
for df, length in [(ymaj_df, 25), (ymin_df, 12)]:
    layers.append(alt.Chart(df).mark_rule(color="black", strokeWidth=1.5).encode(
        y=alt.Y("v:Q", scale=ys, axis=None), x=alt.value(0), x2=alt.value(length)))
    layers.append(alt.Chart(df).mark_rule(color="black", strokeWidth=1.5).encode(
        y=alt.Y("v:Q", scale=ys, axis=None), x=alt.value(W - length), x2=alt.value(W)))
layers.append(alt.Chart(quarter_df).mark_rule(color="black", strokeWidth=1.5).encode(
    x=alt.X("q:Q", scale=xs, axis=None), y=alt.value(0), y2=alt.value(8)))
layers.append(alt.Chart(quarter_df).mark_rule(color="black", strokeWidth=1.5).encode(
    x=alt.X("q:Q", scale=xs, axis=None), y=alt.value(H - 19), y2=alt.value(H)))
# azimuth labels
layers.append(alt.Chart(quarter_df).mark_text(font=FONT, fontSize=17, angle=270, align="left",
                                              baseline="alphabetic", color="black").encode(
    x=alt.X("q:Q", scale=xs, axis=None), y=alt.value(H - 26), text="lab:N"))

# tick labels
layers.append(alt.Chart(ymaj_df).mark_text(font=FONT, fontSize=30, align="right", baseline="middle",
                                           color="black").encode(
    y=alt.Y("v:Q", scale=ys, axis=None), x=alt.value(-6), text="v:Q"))
layers.append(alt.Chart(disk_df).mark_text(font=FONT, fontSize=30, align="center", baseline="alphabetic",
                                           color="black").encode(
    x=alt.X("d:Q", scale=xs, axis=None), y=alt.value(H + 29), text="d:Q"))


def box(x0, x1, y0, y1, stroke=None):
    kw = dict(fill="white", opacity=1)
    if stroke:
        kw.update(stroke=stroke, strokeWidth=1.3)
    else:
        kw.update(strokeWidth=0)
    return alt.Chart(one).mark_rect(**kw).encode(
        x=alt.value(x0), x2=alt.value(x1), y=alt.value(y0), y2=alt.value(y1))


def label(x, y, s, size, weight="normal", style="normal", align="left", color="black", angle=0):
    return alt.Chart(one).mark_text(font=FONT, fontSize=size, fontWeight=weight, fontStyle=style,
                                    align=align, baseline="alphabetic", color=color, angle=angle).encode(
        x=alt.value(x), y=alt.value(y), text=alt.value(s))


def seg(x0, x1, y, color, dotted):
    if dotted:
        m = alt.Chart(one).mark_rule(color=color, strokeWidth=7, strokeDash=[5, 4.3], strokeCap="butt")
    else:
        m = alt.Chart(one).mark_rule(color=color, strokeWidth=5, strokeCap="butt")
    return m.encode(x=alt.value(x0), x2=alt.value(x1), y=alt.value(y))


# axis titles and chart title
layers.append(label(-87, -5, "Leakage current at 0°C [µA/cm³]", 31, align="right", angle=270))
layers.append(label(W, H + 60, "Disk number", 30, align="right"))
layers.append(label(-1, -3, "Endcaps in Nov. 2018", 46, weight="bold", color="#0b1a3c"))
# run conditions
layers.append(box(14, 451, 30, 78))
layers.append(label(30, 63, "Date : 2018-11-01 ,\u00a0\u00a0HV=150V", 31))
# experiment tag
layers.append(box(494, 609, 657, 703))
layers.append(label(502, 692, "ATLAS", 30, weight="bold", style="italic"))

# legend: model predictions
layers.append(box(45, 525, 721, 883, stroke="black"))
layers.append(label(71, 760, "Transport", 30, weight="bold"))
layers.append(label(237, 760, "⊗", 30, align="center"))
layers.append(label(268, 760, "Hamburg model", 30, weight="bold"))
layers.append(label(62, 797, "Geant4", 30, weight="bold"))
layers.append(label(62, 834, "FLUKA", 30, weight="bold"))
for (x0, x1), col, name, cx in [((179, 256), "#ff0000", "Inner", 222),
                                ((286, 363), "#00ff00", "Middle", 336),
                                ((393, 470), "#0000ff", "Outer", 439)]:
    layers.append(seg(x0, x1, 787, col, True))
    layers.append(seg(x0, x1, 824, col, False))
    layers.append(label(cx, 860, name, 25.5, align="center"))

# legend: data
layers.append(box(525, 770, 721, 883, stroke="black"))
layers.append(label(656, 758, "Data", 29, weight="bold", align="center"))
for i, (name, col) in enumerate(zip(series_names, series_colors)):
    yd = [782, 809, 835, 862][i]
    layers.append(alt.Chart(one).mark_circle(size=30, opacity=1).encode(
        x=alt.value(545), y=alt.value(yd), color=alt.value(col)))
    maker, side = name.split(", ")
    if maker == "HPK":
        layers.append(label(563, yd + 6, name, 27))
    else:
        layers.append(label(563, yd + 6, maker + ",", 27))
        layers.append(label(640, yd + 6, side, 27))

chart = alt.layer(*layers).resolve_scale(color="independent").properties(
    width=W, height=H,
    autosize=alt.AutoSizeParams(type="none"),
    padding={"left": 131, "top": 45, "right": 11, "bottom": 67},
).configure(background="white").configure_view(stroke="black", strokeWidth=2)

chart.save("out.html", embed_options={"renderer": "svg", "actions": False})
